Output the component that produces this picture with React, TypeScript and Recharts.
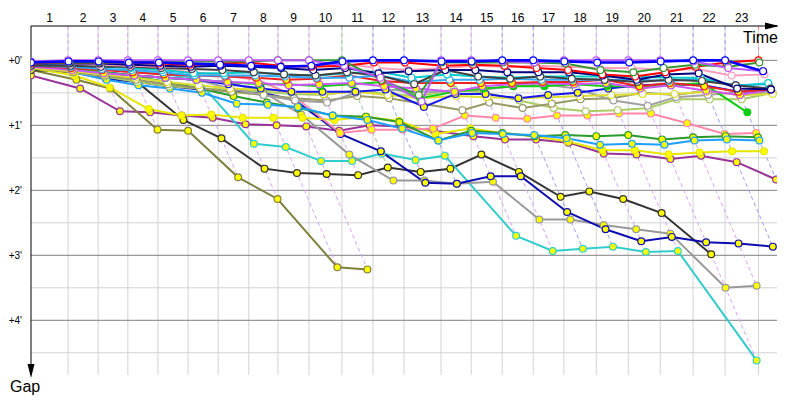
import React from 'react';
import { LineChart, Line, XAxis, YAxis, CartesianGrid } from 'recharts';

// leader's elapsed time (s) at the end of each lap, index 0 = start
const LAP_TIMES = [0, 80, 145, 209, 274, 339, 404, 470, 533, 600, 671, 738, 805, 885, 950, 1017, 1084, 1150, 1220, 1289, 1358, 1429, 1498, 1570];
const LAP_LABELS = ['1', '2', '3', '4', '5', '6', '7', '8', '9', '10', '11', '12', '13', '14', '15', '16', '17', '18', '19', '20', '21', '22', '23'];
// who led each lap (laps 1..23)
const LAP_LEADERS = ['violet', 'violet', 'violet', 'violet', 'violet', 'violet', 'violet', 'violet', 'violet', 'green', 'blue', 'blue', 'violet', 'violet', 'blue', 'blue', 'violet', 'violet', 'violet', 'violet', 'blue', 'blue', 'red'];
const GAP_TICKS = [0, 60, 120, 180, 240];
const GAP_MINOR = [30, 90, 150, 210, 270];

// gap to the leader in seconds, index = lap (0 = start)
const blue = [2, 1, 1, 2, 2, 3, 4, 5, 6, 5, 1, 0, 0, 1, 1, 0, 0, 1, 2, 2, 1, 0, 0, 10];
const violet = [1, 0, 0, 0, 0, 0, 0, 0, 0, 0, 5, 16, 38, 0, 0, 1, 2, 0, 0, 0, 0, 1, 7, 10];
const dkgreen = [2, 2, 2, 2, 1, 1, 1, 1, 0, 0, 0, 18, 32, 2, 2, 2, 2, 3, 9, 11, 7, 4, 6, 2];
const red = [3, 2, 2, 2, 3, 4, 3, 2, 5, 6, 5, 2, 2, 5, 4, 5, 7, 9, 13, 15, 11, 6, 2, 0];
const navy = [3, 3, 3, 4, 5, 6, 5, 6, 7, 9, 7, 12, 10, 9, 9, 11, 11, 11, 14, 18, 13, 12, 26, 27];
const dkgray = [5, 5, 6, 6, 7, 8, 9, 11, 13, 14, 11, 14, 22, 9, 15, 17, 15, 17, 18, 20, 18, 19, 23, 26];
const pink = [2, 3, 4, 5, 6, 5, 5, 5, 6, 5, 3, 7, 9, 7, 5, 6, 5, 6, 7, 7, 9, 8, 14, 13];
const cyan = [4, 5, 6, 7, 9, 12, 12, 11, 13, 14, 12, 10, 16, 13, 15, 16, 15, 15, 15, 15, 16, 16, 24, 21];
const ltblue = [5, 6, 8, 9, 11, 14, 14, 14, 15, 16, 16, 14, 20, 18, 18, 17, 18, 18, 18, 18, 19, 17, 23, 22];
const gray = [6, 9, 13, 14, 16, 18, 26, 32, 37, 39, 30, 27, 29, 29, 27, 24, 22, 26, 37, 42, 34, 32, 29, 30];
const olive2 = [7, 11, 14, 18, 22, 26, 29, 32, 35, 37, 33, 35, 40, 46, 39, 44, 40, 36, 35, 30, 32, 28, 32, 30];
const ygreen = [6, 11, 15, 20, 24, 26, 27, 29, 31, 32, 28, 31, 33, 27, 30, 37, 44, 47, 46, 44, 36, 36, 36, 30];
const lime = [4, 7, 11, 14, 16, 18, 20, 22, 22, 24, 22, 20, 35, 29, 26, 24, 24, 22, 24, 24, 23, 21, 48];
const red2 = [5, 7, 9, 11, 13, 14, 15, 16, 18, 17, 14, 19, 21, 21, 21, 21, 20, 20, 18, 24, 21, 24, 29, 27];
const violet2 = [6, 9, 12, 14, 16, 18, 20, 21, 23, 22, 21, 24, 26, 29, 24, 22, 21, 22, 21, 26, 23, 28, 32, 27];
const blue2 = [4, 7, 11, 14, 16, 18, 22, 26, 29, 29, 29, 27, 43, 31, 31, 35, 32, 30, 26, 23, 22, 23, 29, 27];
const yellow2 = [7, 10, 13, 16, 20, 23, 26, 27, 29, 31, 29, 32, 35, 33, 34, 35, 34, 33, 32, 31, 31, 29, 32, 31];
const purple = [14, 26, 47, 48, 51, 53, 59, 60, 61, 65, 60, 61, 65, 70, 73, 73, 76, 86, 87, 91, 88, 94, 110];
const olive = [9, 18, 26, 64, 65, 108, 128, 191, 193];
const black = [9, 11, 15, 20, 55, 72, 100, 104, 105, 106, 99, 103, 100, 87, 103, 126, 121, 128, 141, 179];
const cyan2 = [5, 6, 8, 10, 13, 16, 77, 80, 93, 93, 86, 92, 88, 162, 176, 174, 172, 177, 176, 277];
const dkblue = [5, 11, 17, 20, 24, 27, 28, 30, 37, 68, 84, 113, 114, 107, 107, 140, 156, 167, 163, 168, 169, 172];
const gray2 = [3, 7, 11, 14, 16, 18, 20, 29, 50, 87, 111, 111, 114, 112, 147, 147, 152, 156, 160, 210, 208];
const yellow = [7, 14, 25, 45, 51, 50, 53, 53, 53, 55, 52, 56, 68, 63, 67, 70, 75, 83, 83, 87, 85, 84, 84];
const pink2 = [2, 3, 5, 7, 9, 11, 14, 18, 32, 67, 64, 64, 63, 51, 53, 54, 51, 51, 49, 49, 58, 68, 67];
const green2 = [3, 7, 11, 15, 20, 26, 33, 39, 44, 51, 52, 57, 74, 65, 67, 70, 69, 70, 69, 73, 71, 70, 71];
const dodger = [4, 11, 18, 23, 26, 30, 40, 41, 43, 51, 55, 63, 74, 67, 68, 69, 72, 78, 77, 78, 74, 73, 74];

const X_MAX = 1610;
const Y_MIN = -31.7;
const Y_MAX = 290.5;

const W = '#ffffff';
const Y = '#ffff00';

// drawn in this order (last on top)
const drivers = [
  { color: '#993399', fill: Y, gaps: purple },
  { color: '#808040', fill: Y, gaps: olive },
  { color: '#333333', fill: Y, gaps: black },
  { color: '#33cccc', fill: Y, gaps: cyan2 },
  { color: '#999999', fill: Y, gaps: gray2 },
  { color: '#0c0cb0', fill: Y, gaps: dkblue },
  { color: '#e6e600', fill: Y, gaps: yellow },
  { color: '#ff88aa', fill: Y, gaps: pink2 },
  { color: '#2a9a2a', fill: Y, gaps: green2 },
  { color: '#1e9fff', fill: Y, gaps: dodger },
  { color: '#aacc66', fill: W, gaps: ygreen },
  { color: '#999966', fill: W, gaps: olive2 },
  { color: '#a0a0a0', fill: W, gaps: gray },
  { color: '#dddd33', fill: W, gaps: yellow2 },
  { color: '#1515ee', fill: Y, gaps: blue2 },
  { color: '#11cc11', fill: '#11cc11', gaps: lime },
  { color: '#cc55ff', fill: Y, gaps: violet2 },
  { color: '#ee2222', fill: Y, gaps: red2 },
  { color: '#33aaff', fill: W, gaps: ltblue },
  { color: '#00cccc', fill: W, gaps: cyan },
  { color: '#404040', fill: W, gaps: dkgray },
  { color: '#ff9fbf', fill: W, gaps: pink },
  { color: '#000080', fill: W, gaps: navy },
  { color: '#ff0000', fill: W, gaps: red },
  { color: '#339933', fill: W, gaps: dkgreen },
  { color: '#bb55ff', fill: W, gaps: violet },
  { color: '#0000ff', fill: W, gaps: blue },
];

const DASH_COLORS: Record<string, string> = { violet: '#d9a0ff', blue: '#9a9aff', green: '#93cc93', red: '#ff8c8c' };

const driverPoints = (gaps: number[]) =>
  gaps
    .map((g, lap) => ({ t: lap === 0 ? 0 : LAP_TIMES[lap] + g, g }))
    .filter((p) => p.t <= X_MAX);

const lapLines = LAP_LEADERS.map((leader, i) => {
  const lap = i + 1;
  const pts = drivers
    .filter((d) => d.gaps[lap] != null)
    .map((d) => ({ t: LAP_TIMES[lap] + d.gaps[lap], g: d.gaps[lap] }))
    .filter((p) => p.t <= X_MAX)
    .sort((a, b) => a.g - b.g);
  return { color: DASH_COLORS[leader], data: [{ t: LAP_TIMES[lap], g: Y_MIN }, ...pts] };
});

const lapMids = LAP_LABELS.map((_, i) => (LAP_TIMES[i] + LAP_TIMES[i + 1]) / 2);

const font = '"Liberation Sans", Arial, sans-serif';

const App: React.FC = () => {
  return (
    <div style={{ position: 'relative', width: 800, height: 400, fontFamily: font }}>
      <LineChart width={800} height={400} margin={{ top: 0, right: 31, bottom: 33, left: 0 }}>
        <CartesianGrid
          stroke="#d2d2d2"
          horizontalValues={GAP_MINOR}
          verticalValues={LAP_TIMES.slice(1)}
        />
        <CartesianGrid stroke="#808080" vertical={false} horizontalValues={GAP_TICKS} />
        <XAxis
          type="number"
          dataKey="t"
          orientation="top"
          domain={[0, X_MAX]}
          allowDataOverflow
          ticks={lapMids}
          interval={0}
          height={18}
          tickSize={0}
          tickMargin={4}
          tickFormatter={(_v: number, i: number) => LAP_LABELS[i]}
          tick={{ fill: '#000', fontSize: 12, fontFamily: font }}
          axisLine={{ stroke: '#000' }}
        />
        <YAxis
          type="number"
          dataKey="g"
          reversed
          domain={[Y_MIN, Y_MAX]}
          allowDataOverflow
          ticks={GAP_TICKS}
          interval={0}
          width={23}
          tickLine={false}
          tickSize={6}
          tickMargin={3}
          tickFormatter={(v: number) => `+${v / 60}'`}
          tick={{ fill: '#000', fontSize: 10, fontFamily: font }}
          axisLine={{ stroke: '#000' }}
        />
        {lapLines.map((l, i) => (
          <Line
            key={`lap${i}`}
            data={l.data}
            dataKey="g"
            stroke={l.color}
            strokeWidth={1}
            strokeDasharray="4 3"
            dot={false}
            activeDot={false}
            isAnimationActive={false}
          />
        ))}
        {drivers.map((d, i) => (
          <Line
            key={`drv${i}`}
            data={driverPoints(d.gaps)}
            dataKey="g"
            stroke={d.color}
            strokeWidth={i === drivers.length - 1 ? 2.6 : 2}
            dot={{ r: 3.4, fill: d.fill, stroke: d.color, strokeWidth: 1.2 }}
            activeDot={false}
            isAnimationActive={false}
          />
        ))}
      </LineChart>
      <svg width={800} height={400} style={{ position: 'absolute', left: 0, top: 0, pointerEvents: 'none' }}>
        <line x1={769} y1={18} x2={760} y2={18} stroke="#000" />
        <polygon points="757,14.5 771,18 757,21.5" fill="#000" />
        <polygon points="19.5,356 23,370 26.5,356" fill="#000" />
        <text x={770} y={35} textAnchor="end" fontSize={16} fontFamily={font} fill="#000">Time</text>
        <text x={2} y={384} fontSize={16} fontFamily={font} fill="#000">Gap</text>
      </svg>
    </div>
  );
};

export default App;
